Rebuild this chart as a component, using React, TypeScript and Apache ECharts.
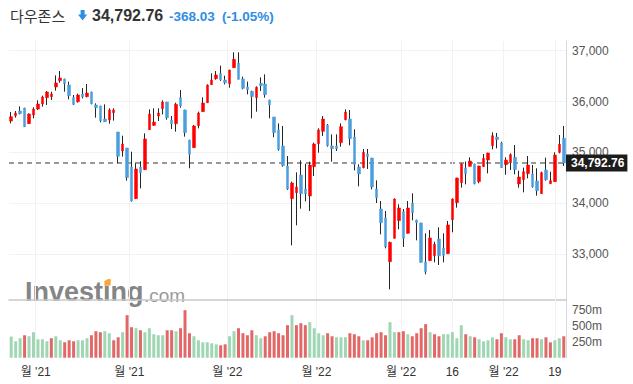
import { useEffect, useRef } from "react";
import * as echarts from "echarts";

const FONT = '"Liberation Sans", Arial, "Noto Sans CJK KR", sans-serif';

const title = "다우존스";
const lastPrice = 34792.76;
const change = -368.03;
const changePct = -1.05;

const opens = [35618,35723,35815,35874,35566,35736,35854,35952,36077,36096,
36286,36410,36443,36325,36077,35998,36149,36096,36188,35933,
35913,35658,35638,35782,35402,35029,35088,34715,34093,34715,
34662,35448,35533,35716,35861,35991,35638,35566,36077,35834,
35245,35095,35527,35802,35978,36332,36450,36555,36424,36352,
36666,36757,36443,36286,36201,36077,36358,36345,36031,35697,
35442,35127,34735,34093,34211,34558,34283,34145,34721,35173,
35415,35540,35127,35127,35193,35644,35658,35304,34715,34702,
34970,34892,34283,33890,33713,32855,33314,33661,33837,33412,
34008,33674,33615,32849,32875,32973,33301,33124,33013,33680,
34014,34407,34695,34728,34774,34427,34721,34852,35134,35304,
35186,34761,34800,34905,34381,34466,34584,34577,34440,34191,
34656,34387,34427,35003,35278];

const highs = [35795,35815,35906,35880,35769,35887,36024,36116,36208,36194,
36515,36600,36450,36391,36129,36155,36266,36345,36195,35965,
35919,35946,35867,35867,35405,35330,35090,35016,34787,34826,
35376,35847,35867,35867,36024,35995,35716,35978,36227,35840,
35250,35540,35802,36083,36338,36555,36600,36705,36509,36625,
36967,36967,36489,36391,36214,36299,36476,36535,36035,35700,
35572,35520,34931,34427,34610,34846,34780,34820,35193,35474,
35716,35559,35356,35356,35572,35847,35834,35455,34767,35068,
35068,34895,34453,34047,33851,33248,34099,33982,33890,34047,
34198,33680,33620,33412,33477,33248,33530,33412,33654,34099,
34505,34787,34820,34905,34780,34740,34970,34995,35396,35383,
35212,34905,34983,35147,34643,34702,34931,34754,34689,34623,
34898,34623,35003,35343,35520];

const lows = [35572,35684,35749,35500,35560,35671,35834,35900,35933,36031,
36214,36371,36194,36044,35933,35978,36063,36083,35946,35684,
35592,35600,35566,35625,34787,34918,34446,34034,34088,34296,
34658,35445,35520,35618,35749,35644,35461,35409,35880,35311,
34689,35090,35474,35798,35975,36330,36430,36404,36338,36273,
36662,36435,36240,36142,35671,35802,36208,36077,35671,35298,
35036,34721,34263,33176,33569,33896,34040,33851,34538,34996,
35324,35114,34820,35029,35114,35631,35140,34649,34335,34689,
34676,34276,34008,33392,33117,32312,33310,33491,33144,33408,
33667,33274,32838,32607,32870,32842,32790,32842,33010,33432,
33916,34309,34374,34725,34374,34394,34718,34590,35062,35081,
34698,34564,34656,34571,34309,34217,34492,34309,34152,34188,
34446,34384,34424,34983,34735];

const closes = [35703,35775,35762,35507,35756,35854,35952,36090,36188,36149,
36365,36463,36352,36116,35946,36129,36096,36168,35959,35880,
35625,35605,35834,35834,34924,35167,34505,34047,34676,34603,
35265,35756,35599,35775,35991,35684,35559,35946,35913,35389,
34964,35520,35775,35972,36325,36424,36522,36430,36371,36620,
36829,36437,36260,36234,36096,36280,36312,36135,35933,35389,
35062,34741,34283,34401,34322,34191,34191,34754,35167,35442,
35658,35134,35075,35075,35507,35795,35271,34767,34577,35003,
34918,34322,34112,33621,33150,33235,34086,33910,33314,33910,
33818,33621,32842,32652,33320,33196,32973,32980,33576,34086,
34499,34774,34584,34833,34387,34735,34885,34990,35330,35252,
34702,34852,34957,34662,34518,34623,34754,34329,34250,34603,
34466,34446,34950,35160.79,34792.76];

// volume in millions
const volumes = [333,259,307,354,338,402,291,291,259,307,
338,275,243,275,259,275,275,307,354,418,
402,418,386,275,322,402,671,481,465,433,
402,465,370,354,354,433,433,418,465,750,
386,338,275,243,243,227,211,196,211,338,
418,465,386,354,433,354,307,338,402,418,
386,354,513,671,513,544,513,560,465,386,
354,386,338,322,322,322,386,370,338,275,
275,322,386,402,354,560,402,402,418,370,
338,386,465,529,402,370,338,370,370,402,
307,513,370,338,322,291,259,275,322,291,
386,322,291,291,354,291,275,307,307,291,
322,243,275,307,338];

// G = up day (green volume bar), R = down day (red volume bar)
const volumeDir = (
  "GGGRGGGGGR" + "GGRRRGGGRR" + "RGGRRGRRGR" + "GGGGGRRGRR" + "RGGGGGGRRG" +
  "GRRRRGGRRR" + "RRRGRRRGGG" + "GRRGGGRRRG" + "RRRRRGGRRG" + "RRRRGRRGGG" +
  "GGRGRGGGGR" + "RGGRRGGRRG" + "RRGGR"
).split("");

const categories = opens.map((_, i) => String(i));

// month ticks fall between sessions (band boundary), day ticks on a session
const monthTickIndex = [6, 27, 49, 69, 88, 111];
const monthTickLabels = ["월 '21", "월 '21", "월 '22", "월 '22", "월 '22", "월 '22"];
const dayTickIndex = [99, 122];
const dayTickLabels = ["16", "19"];

const UP = "#ff0000";
const DOWN = "#4a9fdc";
const WICK = "#262626";
const GRID = "#f2f2f2";
const AXIS = "#d6d9de";
const CHG = "#2f8de4";

export default function App() {
  const ref = useRef<HTMLDivElement>(null);

  useEffect(() => {
    if (!ref.current) return;
    const chart = echarts.init(ref.current, null, { renderer: "svg" });

    const wickData = opens.map((o, i) => [o, closes[i], lows[i], highs[i]]);
    const bodyData = opens.map((o, i) => [o, closes[i], Math.min(o, closes[i]), Math.max(o, closes[i])]);
    const volData = volumes.map((v, i) => ({
      value: v,
      itemStyle: { color: volumeDir[i] === "G" ? "#a0d6b4" : "#e26868" },
    }));

    const labelFor = (idx: number) => {
      const m = monthTickIndex.indexOf(idx);
      if (m >= 0) return `{m|${monthTickLabels[m]}}`;
      const d = dayTickIndex.indexOf(idx);
      if (d >= 0) return dayTickLabels[d];
      return "";
    };

    const splitLine = {
      show: true,
      interval: (i: number) => monthTickIndex.includes(i),
      lineStyle: { color: GRID, width: 1 },
    };

    const dayLines = {
      silent: true,
      symbol: "none",
      z: 1,
      label: { show: false },
      lineStyle: { color: GRID, type: "solid", width: 1 },
      data: dayTickIndex.map((i) => ({ xAxis: categories[i] })),
    };

    const fmt = (v: number) => v.toLocaleString("en-US", { minimumFractionDigits: 2, maximumFractionDigits: 2 });

    chart.setOption({
      animation: false,
      backgroundColor: "#ffffff",
      textStyle: { fontFamily: FONT },
      grid: [
        { left: 9, width: 557, top: 41, height: 259 },
        { left: 9, width: 557, top: 300, height: 57.7 },
      ],
      xAxis: [
        {
          type: "category",
          gridIndex: 0,
          data: categories,
          boundaryGap: true,
          axisLine: { show: true, lineStyle: { color: "#c9c9c9", width: 1.5 } },
          axisTick: { show: false },
          axisLabel: { show: false },
          splitLine,
        },
        {
          type: "category",
          gridIndex: 1,
          data: categories,
          boundaryGap: true,
          axisLine: { show: false },
          axisTick: { show: false },
          axisLabel: {
            show: true,
            interval: (i: number) => monthTickIndex.includes(i) || dayTickIndex.includes(i),
            formatter: (_v: string, i: number) => labelFor(i),
            color: "#333",
            fontSize: 12,
            margin: 8,
            fontFamily: FONT,
            rich: { m: { padding: [0, 4.5, 0, 0], color: "#333", fontSize: 12, fontFamily: FONT } },
          },
          splitLine,
        },
      ],
      yAxis: [
        {
          type: "value",
          gridIndex: 0,
          position: "right",
          min: 32102,
          max: 37190,
          minInterval: 1000,
          maxInterval: 1000,
          axisLine: { show: true, lineStyle: { color: AXIS } },
          axisTick: { show: false },
          axisLabel: {
            color: "#555",
            fontSize: 12,
            margin: 6,
            showMinLabel: false,
            showMaxLabel: false,
            formatter: (v: number) => v.toLocaleString("en-US"),
          },
          splitLine: { show: true, showMinLine: false, showMaxLine: false, lineStyle: { color: GRID } },
        },
        {
          type: "value",
          gridIndex: 1,
          position: "right",
          min: 0,
          max: 910,
          minInterval: 250,
          maxInterval: 250,
          axisLine: { show: true, lineStyle: { color: AXIS } },
          axisTick: { show: false },
          axisLabel: {
            color: "#555",
            fontSize: 12,
            margin: 6,
            showMinLabel: false,
            showMaxLabel: false,
            formatter: (v: number) => `${v}m`,
          },
          splitLine: { show: false },
        },
      ],
      series: [
        {
          type: "candlestick",
          name: "wick",
          xAxisIndex: 0,
          yAxisIndex: 0,
          data: wickData,
          barWidth: 1,
          z: 2,
          itemStyle: { color: WICK, color0: WICK, borderColor: WICK, borderColor0: WICK, borderWidth: 1 },
          markLine: {
            silent: true,
            symbol: "none",
            z: 1,
            lineStyle: { color: "#999", type: [5, 4], width: 1.8 },
            label: {
              show: true,
              position: "end",
              distance: 0,
              formatter: fmt(lastPrice),
              color: "#fff",
              backgroundColor: "#1c1c1c",
              fontWeight: "bold",
              fontSize: 12,
              lineHeight: 13,
              padding: [2, 3, 2, 5],
              fontFamily: FONT,
            },
            data: [{ yAxis: lastPrice }],
          },
        },
        {
          type: "candlestick",
          name: "day-lines",
          xAxisIndex: 0,
          yAxisIndex: 0,
          data: [],
          z: 1,
          markLine: dayLines,
        },
        {
          type: "candlestick",
          name: "body",
          xAxisIndex: 0,
          yAxisIndex: 0,
          data: bodyData,
          barWidth: 3,
          z: 3,
          itemStyle: { color: UP, color0: DOWN, borderColor: UP, borderColor0: DOWN, borderWidth: 0.5 },
        },
        {
          type: "bar",
          name: "volume",
          xAxisIndex: 1,
          yAxisIndex: 1,
          data: volData,
          barWidth: 3,
          z: 3,
          markLine: dayLines,
        },
      ],
      graphic: [
        {
          type: "text",
          x: 10,
          y: 15.5,
          style: { text: title, font: '15px "Noto Sans CJK KR", sans-serif', fill: "#333", verticalAlign: "middle" },
        },
        {
          type: "polygon",
          shape: { points: [[80.6, 10], [84.6, 10], [84.6, 14.5], [87.2, 14.5], [82.6, 20.5], [78, 14.5], [80.6, 14.5]] },
          style: { fill: CHG },
        },
        {
          type: "text",
          x: 92,
          y: 15.5,
          style: { text: fmt(lastPrice), font: `bold 16px ${FONT}`, fill: "#333", verticalAlign: "middle" },
        },
        {
          type: "text",
          x: 169,
          y: 16,
          style: { text: change.toFixed(2), font: `bold 13.5px ${FONT}`, fill: CHG, verticalAlign: "middle" },
        },
        {
          type: "text",
          x: 222,
          y: 16,
          style: { text: `(${changePct.toFixed(2)}%)`, font: `bold 13.5px ${FONT}`, fill: CHG, verticalAlign: "middle" },
        },
        {
          type: "text",
          x: 25,
          y: 292,
          z: 0,
          style: { text: "Investing", font: `bold 27px ${FONT}`, fill: "#858585", verticalAlign: "middle" },
        },
        {
          type: "text",
          x: 144,
          y: 295,
          z: 0,
          style: { text: ".com", font: `19px ${FONT}`, fill: "#9a9a9a", verticalAlign: "middle" },
        },
        {
          type: "polygon",
          z: 1,
          shape: { points: [[104.5, 281], [108.5, 278.8], [111, 279.5], [110.5, 285.5], [104.5, 286]] },
          style: { fill: "#f6a83f" },
        },
      ],
    });

    return () => chart.dispose();
  }, []);

  return <div ref={ref} style={{ position: "absolute", left: 0, top: 0, width: 633, height: 384 }} />;
}
